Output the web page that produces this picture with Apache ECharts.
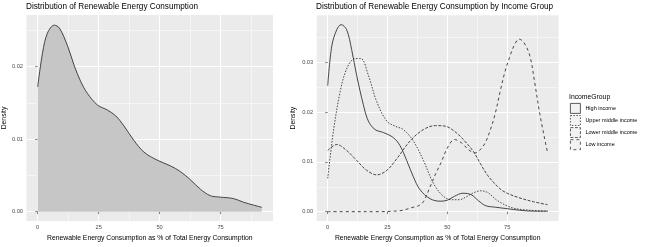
<!DOCTYPE html>
<html>
<head>
<meta charset="utf-8">
<script src="https://cdn.jsdelivr.net/npm/echarts@6/dist/echarts.min.js"></script>
<style>
  html, body { margin: 0; padding: 0; background: #fff; }
  #chart { width: 648px; height: 247px; }
</style>
</head>
<body>
<div id="chart"></div>
<script>
// overall density (left panel)
const allX = [0, 2, 4, 6.8, 8.9, 12.3, 15, 17.7, 20.4, 24.5, 28.6, 32, 35.4, 39.5, 43.6, 49, 54.5, 58.6, 62.6, 66.7, 70.8, 74.9, 80.3, 84.4, 88.5, 91.9];
const allY = [0.0172, 0.0219, 0.0246, 0.0257, 0.0253, 0.0228, 0.0201, 0.0179, 0.0163, 0.0147, 0.0140, 0.0132, 0.0118, 0.0098, 0.0082, 0.0071, 0.0063, 0.0055, 0.0044, 0.0031, 0.0022, 0.0020, 0.0018, 0.0013, 0.0009, 0.0006];

// density per income group (right panel)
const groups = ["High income", "Upper middle income", "Lower middle income", "Low income"];
const highX = [0, 1.7, 3.8, 5.6, 7.9, 10, 12.1, 14.9, 17, 19.8, 23.3, 27.4, 30.2, 33, 35.8, 38.6, 42.8, 47, 50, 53, 56.5, 60, 63, 66, 70, 75, 80, 86, 91.9];
const highY = [0.0253, 0.0333, 0.0366, 0.0376, 0.0366, 0.0326, 0.0274, 0.0215, 0.0182, 0.0165, 0.0159, 0.0149, 0.0133, 0.0103, 0.0070, 0.0044, 0.0026, 0.0021, 0.0023, 0.0031, 0.0037, 0.0034, 0.0022, 0.0012, 0.0009, 0.0006, 0.0003, 0.0001, 0.0001];
const upperX = [0, 2.4, 5.2, 7.9, 11, 13.8, 17, 20.5, 24.7, 28.1, 31.6, 35.8, 40, 44.2, 48.3, 52, 55, 58, 61, 64, 67, 71, 77, 84, 91.9];
const upperY = [0.0067, 0.0162, 0.0241, 0.0287, 0.0307, 0.0308, 0.0274, 0.0221, 0.0182, 0.0172, 0.0165, 0.0142, 0.0103, 0.0057, 0.0031, 0.0024, 0.0024, 0.0030, 0.0038, 0.0042, 0.0038, 0.0022, 0.0008, 0.0003, 0.0001];
const lowerX = [0, 3.8, 7.9, 12.1, 16.3, 20.5, 24.7, 28.8, 34.4, 40, 45, 49, 53.9, 58, 61, 64, 67, 72, 75, 80, 86, 91.9];
const lowerY = [0.0123, 0.0135, 0.0123, 0.0103, 0.0083, 0.0074, 0.0083, 0.0106, 0.0142, 0.0165, 0.0173, 0.0172, 0.0158, 0.0138, 0.0120, 0.0095, 0.0072, 0.0046, 0.0037, 0.0028, 0.0020, 0.0014];
const lowX = [0, 10, 20, 28, 31.6, 35, 38, 40, 42.8, 45, 47.5, 50, 53, 56, 59, 61.6, 64, 66, 68, 70, 72, 74, 76, 78, 80, 82, 84.5, 86.5, 88.7, 91.9];
const lowY = [0, 0, 0, 0.0001, 0.0003, 0.0008, 0.0012, 0.0020, 0.0050, 0.0075, 0.0100, 0.0128, 0.0145, 0.0138, 0.0124, 0.0118, 0.0126, 0.0140, 0.0165, 0.0197, 0.0240, 0.0280, 0.0310, 0.0335, 0.0347, 0.0340, 0.0313, 0.0260, 0.0195, 0.0118];

const xMajor = [0, 25, 50, 75];
const xMinor = [12.5, 37.5, 62.5, 87.5];
const yMajorL = [0, 0.01, 0.02];
const yMinorL = [0.005, 0.015, 0.025];
const yMajorR = [0, 0.01, 0.02, 0.03];
const yMinorR = [0.005, 0.015, 0.025, 0.035];

const dashes = ["solid", [1.5, 1.5], [3, 1.5], [3, 3]];
const font = "Liberation Sans";

const pairs = (xs, ys) => xs.map((x, i) => [x, ys[i]]);

function xAxes(grid, name) {
  return [
    {
      type: "value", gridIndex: grid, min: -4.6, max: 96.5,
      name: name, nameLocation: "middle", nameGap: 14,
      nameTextStyle: { fontFamily: font, fontSize: 6.8, color: "#000" },
      axisLine: { show: false },
      axisTick: { show: true, length: 2.5, customValues: xMajor, lineStyle: { color: "#333", width: 0.6 } },
      axisLabel: { customValues: xMajor, margin: 3, fontFamily: font, fontSize: 5.7, color: "#4d4d4d" },
      splitLine: { show: true, lineStyle: { color: "#fff", width: 1 } },
    },
    {
      type: "value", gridIndex: grid, min: -4.6, max: 96.5,
      axisLine: { show: false },
      axisTick: { show: false, customValues: xMinor },
      axisLabel: { show: false, customValues: xMinor },
      splitLine: { show: true, lineStyle: { color: "#fff", width: 0.5 } },
    },
  ];
}

function yAxes(grid, min, max, major, minor, gap) {
  return [
    {
      type: "value", gridIndex: grid, min: min, max: max,
      name: "Density", nameLocation: "middle", nameGap: gap, nameRotate: 90,
      nameTextStyle: { fontFamily: font, fontSize: 6.8, color: "#000" },
      axisLine: { show: false },
      axisTick: { show: true, length: 2.5, customValues: major, lineStyle: { color: "#333", width: 0.6 } },
      axisLabel: { customValues: major, margin: 3.5, fontFamily: font, fontSize: 5.7, color: "#4d4d4d",
        formatter: (v) => v.toFixed(2) },
      splitLine: { show: true, lineStyle: { color: "#fff", width: 1 } },
    },
    {
      type: "value", gridIndex: grid, min: min, max: max,
      axisLine: { show: false },
      axisTick: { show: false, customValues: minor },
      axisLabel: { show: false, customValues: minor },
      splitLine: { show: true, lineStyle: { color: "#fff", width: 0.5 } },
    },
  ];
}

const xName = "Renewable Energy Consumption as % of Total Energy Consumption";
const groupData = [pairs(highX, highY), pairs(upperX, upperY), pairs(lowerX, lowerY), pairs(lowX, lowY)];

const chart = echarts.init(document.getElementById("chart"), null, { renderer: "canvas" });
chart.setOption({
  animation: false,
  backgroundColor: "#fff",
  title: [
    { text: "Distribution of Renewable Energy Consumption", left: 26, top: 3, padding: 0,
      textStyle: { fontFamily: font, fontSize: 8.2, fontWeight: "normal", color: "#000" } },
    { text: "Distribution of Renewable Energy Consumption by Income Group", left: 316, top: 3, padding: 0,
      textStyle: { fontFamily: font, fontSize: 8.2, fontWeight: "normal", color: "#000" } },
    { text: "IncomeGroup", left: 569, top: 94, padding: 0,
      textStyle: { fontFamily: font, fontSize: 6.8, fontWeight: "normal", color: "#000" } },
  ],
  legend: {
    orient: "vertical", left: 570, top: 103, padding: 0,
    itemWidth: 10, itemHeight: 10, itemGap: 1.3, icon: "rect",
    textStyle: { fontFamily: font, fontSize: 5.5, color: "#000" },
    data: groups.map((g, i) => ({
      name: g,
      itemStyle: { color: "#f2f2f2", borderColor: "#333", borderWidth: 0.8, borderType: dashes[i] },
    })),
  },
  grid: [
    { left: 25.4, right: 375, top: 15, bottom: 21.4, show: true, backgroundColor: "#ebebeb", borderWidth: 0 },
    { left: 316.7, right: 89.4, top: 15.2, bottom: 21.8, show: true, backgroundColor: "#ebebeb", borderWidth: 0 },
  ],
  xAxis: [...xAxes(0, xName), ...xAxes(1, xName)],
  yAxis: [
    ...yAxes(0, -0.00129, 0.0271, yMajorL, yMinorL, 18),
    ...yAxes(1, -0.00188, 0.0395, yMajorR, yMinorR, 20),
  ],
  series: [
    {
      name: "All", type: "line", xAxisIndex: 0, yAxisIndex: 0,
      data: pairs(allX, allY), smooth: 0.35, showSymbol: false,
      lineStyle: { color: "#333", width: 0.9 },
      areaStyle: { color: "#c6c6c6", opacity: 1 },
    },
    ...groups.map((g, i) => ({
      name: g, type: "line", xAxisIndex: 2, yAxisIndex: 2,
      data: groupData[i], smooth: 0.35, showSymbol: false,
      lineStyle: { color: "#333", width: 0.9, type: dashes[i] },
      itemStyle: { color: "#333" },
    })),
  ],
});
</script>
</body>
</html>
